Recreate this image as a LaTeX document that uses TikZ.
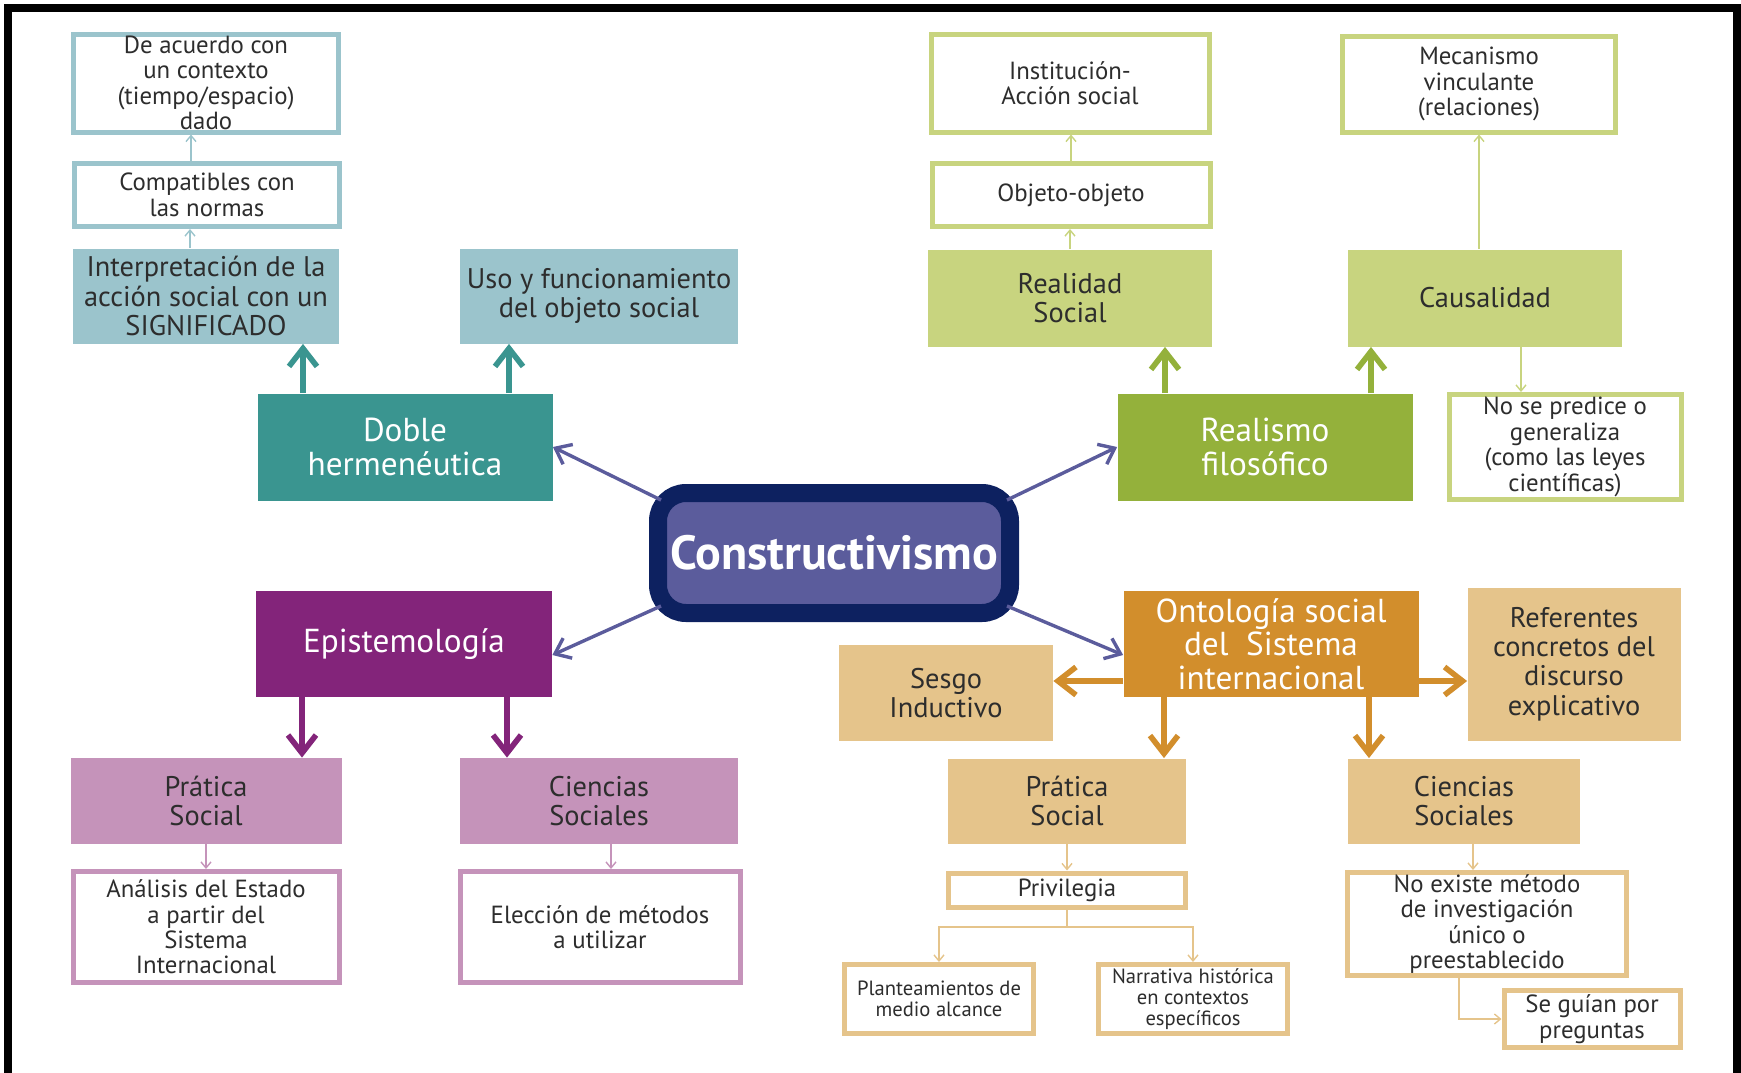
\documentclass[tikz,border=0pt]{standalone}
\usepackage{fontspec}
\setmainfont{PT Sans}
\usetikzlibrary{arrows.meta}

\definecolor{txtdark}{HTML}{2D2D2D}
\definecolor{tealdk}{HTML}{3A9590}
\definecolor{teallt}{HTML}{9BC4CC}
\definecolor{greendk}{HTML}{94B13B}
\definecolor{greenlt}{HTML}{C8D47F}
\definecolor{purpdk}{HTML}{83247A}
\definecolor{purplt}{HTML}{C593BA}
\definecolor{orandk}{HTML}{D28E2C}
\definecolor{oranlt}{HTML}{E5C48B}
\definecolor{ctrfill}{HTML}{5B5C9C}
\definecolor{ctrline}{HTML}{0D2160}

\newcommand{\fsmall}{\fontsize{12.4}{12.7}\selectfont}
\newcommand{\fmid}{\fontsize{14.2}{14.6}\selectfont}
\newcommand{\fbig}{\fontsize{16.6}{16.8}\selectfont}
\newcommand{\ftiny}{\fontsize{10.3}{10.6}\selectfont}

\begin{document}
\begin{tikzpicture}[x=0.5pt,y=0.5pt,yscale=-1,
  box/.style={rectangle,inner sep=0pt,align=center,text=txtdark},
  fillbox/.style={box,fill=#1},
  darkbox/.style={box,fill=#1,text=white,font=\fbig},
  linebox/.style={box,draw=#1,fill=white,line width=2.5pt},
  thickarr/.style={draw=#1,line width=2.8pt,-{Straight Barb[length=9pt,width=14pt]}},
  thinarr/.style={draw=#1,line width=0.7pt,-{Straight Barb[length=3pt,width=5pt]}},
  ctrarr/.style={draw=ctrfill,line width=1.7pt,-{Straight Barb[length=7pt,width=11pt]}}]
\useasboundingbox (0,0) rectangle (1741,1072);

%Frame
\draw [line width=4pt] (8,1080) -- (8,8) -- (1737,8) -- (1737,1080);

%Shape: Rectangle (centre)
\node [box,fill=ctrfill,draw=ctrline,line width=9pt,rounded corners=14pt,text=white,
  font=\fontsize{24}{26}\selectfont\bfseries,minimum width=176pt,minimum height=60pt] (constr) at (834,553) {Constructivismo};

%Doble hermeneutica branch
\node [darkbox=tealdk,minimum width=147.5pt,minimum height=53.5pt] (doble) at (405,447) {Doble\\hermenéutica};
\node [fillbox=teallt,font=\fmid,minimum width=133pt,minimum height=47.5pt] (interp) at (206,296) {Interpretación de la\\acción social con un\\SIGNIFICADO};
\node [fillbox=teallt,font=\fmid,minimum width=139pt,minimum height=47.5pt] (uso) at (599,296) {Uso y funcionamiento\\del objeto social};
\node [linebox=teallt,font=\fsmall,minimum width=132.5pt,minimum height=31.5pt] (compat) at (207,195) {Compatibles con\\las normas};
\node [linebox=teallt,font=\fsmall,minimum width=132.5pt,minimum height=49pt] (acuerdo) at (206,83) {De acuerdo con\\un contexto\\(tiempo/espacio)\\dado};

%Realismo branch
\node [darkbox=greendk,minimum width=147.5pt,minimum height=53.5pt] (realismo) at (1265,447) {Realismo\\filosófico};
\node [fillbox=greenlt,font=\fmid,minimum width=142pt,minimum height=48.5pt] (realidad) at (1070,298) {Realidad\\Social};
\node [fillbox=greenlt,font=\fmid,minimum width=137pt,minimum height=48.5pt] (causal) at (1485,298) {Causalidad};
\node [linebox=greenlt,font=\fsmall,minimum width=139pt,minimum height=31.5pt] (objeto) at (1071,195) {Objeto-objeto};
\node [linebox=greenlt,font=\fsmall,minimum width=139pt,minimum height=49pt] (instit) at (1070,83) {Institución-\\Acción social};
\node [linebox=greenlt,font=\fsmall,minimum width=136.5pt,minimum height=48pt] (mecan) at (1479,84) {Mecanismo\\vinculante\\(relaciones)};
\node [linebox=greenlt,font=\fsmall,minimum width=116pt,minimum height=52.5pt] (nopred) at (1565,447) {No se predice o\\generaliza\\(como las leyes\\científicas)};

%Epistemologia branch
\node [darkbox=purpdk,minimum width=148pt,minimum height=53pt] (epist) at (404,644) {Epistemología};
\node [fillbox=purplt,font=\fmid,minimum width=135.5pt,minimum height=43pt] (praticaA) at (206,801) {Prática\\Social};
\node [fillbox=purplt,font=\fmid,minimum width=139pt,minimum height=43pt] (cienciasA) at (599,801) {Ciencias\\Sociales};
\node [linebox=purplt,font=\fsmall,minimum width=133pt,minimum height=55.5pt] (analisis) at (206,927) {Análisis del Estado\\a partir del\\Sistema\\Internacional};
\node [linebox=purplt,font=\fsmall,minimum width=140pt,minimum height=55.5pt] (eleccion) at (600,927) {Elección de métodos\\a utilizar};

%Ontologia branch
\node [darkbox=orandk,minimum width=147.5pt,minimum height=53pt] (onto) at (1271,644) {Ontología social\\del\ \ Sistema\\internacional};
\node [fillbox=oranlt,font=\fmid,minimum width=107pt,minimum height=48pt] (sesgo) at (946,693) {Sesgo\\Inductivo};
\node [fillbox=oranlt,font=\fmid,minimum width=106.5pt,minimum height=76.5pt] (refer) at (1574,664) {Referentes\\concretos del\\discurso\\explicativo};
\node [fillbox=oranlt,font=\fmid,minimum width=119pt,minimum height=42.5pt] (praticaB) at (1067,801) {Prática\\Social};
\node [fillbox=oranlt,font=\fmid,minimum width=116pt,minimum height=42.5pt] (cienciasB) at (1464,801) {Ciencias\\Sociales};
\node [linebox=oranlt,font=\fsmall,minimum width=118.5pt,minimum height=17pt] (privil) at (1067,890) {Privilegia};
\node [linebox=oranlt,font=\ftiny,minimum width=94.5pt,minimum height=34.5pt] (plant) at (939,999) {Planteamientos de\\medio alcance};
\node [linebox=oranlt,font=\ftiny,minimum width=94.5pt,minimum height=34.5pt] (narr) at (1193,999) {Narrativa histórica\\en contextos\\específicos};
\node [linebox=oranlt,font=\fsmall,minimum width=139.5pt,minimum height=51.5pt] (noexiste) at (1487,924) {No existe método\\de investigación\\único o\\preestablecido};
\node [linebox=oranlt,font=\fsmall,minimum width=88pt,minimum height=28.5pt] (seguian) at (1592,1019) {Se guían por\\preguntas};
\coordinate (split) at (1067,927);

%Straight Lines from the centre
\draw [ctrarr] ([shift={(6pt,8pt)}]constr.north west) -- (doble.east);
\draw [ctrarr] ([shift={(-6pt,8pt)}]constr.north east) -- (realismo.west);
\draw [ctrarr] ([shift={(6pt,-8pt)}]constr.south west) -- ([yshift=5.5pt]epist.east);
\draw [ctrarr] ([shift={(-6pt,-8pt)}]constr.south east) -- ([yshift=5.5pt]onto.west);

%Straight Lines (teal)
\draw [thickarr=tealdk] ([xshift=-51pt]doble.north) -- ([xshift=-51pt]doble.north |- interp.south);
\draw [thickarr=tealdk] ([xshift=52pt]doble.north) -- ([xshift=52pt]doble.north |- uso.south);
\draw [thinarr=teallt] ([xshift=-8pt]interp.north) -- ([xshift=-8pt]interp.north |- compat.south);
\draw [thinarr=teallt] ([xshift=-8pt]compat.north) -- ([xshift=-8pt]compat.north |- acuerdo.south);

%Straight Lines (green)
\draw [thickarr=greendk] ([xshift=-50pt]realismo.north) -- ([xshift=-50pt]realismo.north |- realidad.south);
\draw [thickarr=greendk] ([xshift=53pt]realismo.north) -- ([xshift=53pt]realismo.north |- causal.south);
\draw [thinarr=greenlt] (realidad.north) -- (realidad.north |- objeto.south);
\draw [thinarr=greenlt] (objeto.north) -- (objeto.north |- instit.south);
\draw [thinarr=greenlt] (mecan.south |- causal.north) -- (mecan.south);
\draw [thinarr=greenlt] ([xshift=18pt]causal.south) -- ([xshift=18pt]causal.south |- nopred.north);

%Straight Lines (purple)
\draw [thickarr=purpdk] ([xshift=-51pt]epist.south) -- ([xshift=-51pt]epist.south |- praticaA.north);
\draw [thickarr=purpdk] ([xshift=51.5pt]epist.south) -- ([xshift=51.5pt]epist.south |- cienciasA.north);
\draw [thinarr=purplt] (praticaA.south) -- (praticaA.south |- analisis.north);
\draw [thinarr=purplt] ([xshift=6pt]cienciasA.south) -- ([xshift=6pt]cienciasA.south |- eleccion.north);

%Straight Lines (orange)
\draw [thickarr=orandk] ([yshift=18.5pt]onto.west) -- ([yshift=18.5pt]onto.west -| sesgo.east);
\draw [thickarr=orandk] ([yshift=18.5pt]onto.east) -- ([yshift=18.5pt]onto.east -| refer.west);
\draw [thickarr=orandk] ([xshift=-53.5pt]onto.south) -- ([xshift=-53.5pt]onto.south |- praticaB.north);
\draw [thickarr=orandk] ([xshift=49pt]onto.south) -- ([xshift=49pt]onto.south |- cienciasB.north);
\draw [thinarr=oranlt] (praticaB.south) -- (praticaB.south |- privil.north);
\draw [draw=oranlt,line width=0.7pt] (privil.south) -- (split);
\draw [thinarr=oranlt] (split) -| (plant.north);
\draw [thinarr=oranlt] (split) -| (narr.north);
\draw [thinarr=oranlt] ([xshift=4.5pt]cienciasB.south) -- ([xshift=4.5pt]cienciasB.south |- noexiste.north);
\draw [thinarr=oranlt] ([xshift=-14pt]noexiste.south) |- (seguian.west);

\end{tikzpicture}
\end{document}
